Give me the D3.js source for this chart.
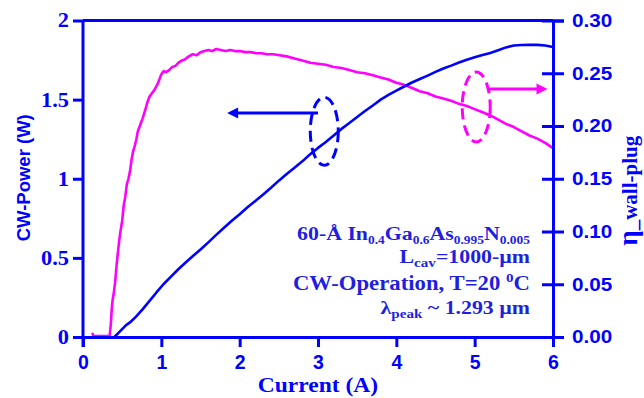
<!DOCTYPE html>
<html>
<head>
<meta charset="utf-8">
<script src="https://cdn.jsdelivr.net/npm/d3@7/dist/d3.min.js"></script>
<style>
  html, body { margin: 0; padding: 0; background: #fff; }
  svg { display: block; }
</style>
</head>
<body>
<svg id="chart" width="644" height="398"></svg>
<script>
// L-I characteristic: CW output power (left axis) and wall-plug efficiency (right axis)
const powerCurrent = [0.40,0.45,0.50,0.55,0.60,0.68,0.76,0.85,0.94,1.03,1.12,1.21,1.30,1.40,1.50,1.60,1.70,1.80,1.90,2.00,
  2.10,2.20,2.30,2.40,2.50,2.60,2.70,2.80,2.90,3.00,3.10,3.20,3.30,3.40,3.50,3.60,3.70,3.80,3.90,4.00,
  4.10,4.20,4.30,4.40,4.50,4.60,4.70,4.80,4.90,5.00,5.10,5.20,5.30,5.40,5.50,5.60,5.70,5.80,5.90,6.00];
const powerValues = [0.000,0.025,0.050,0.075,0.092,0.130,0.175,0.228,0.283,0.335,0.380,0.425,0.466,0.510,0.553,0.598,0.645,0.690,0.735,0.776,
  0.820,0.860,0.900,0.943,0.988,1.030,1.070,1.110,1.155,1.195,1.232,1.273,1.315,1.352,1.390,1.428,1.463,1.500,1.530,1.557,
  1.583,1.608,1.630,1.652,1.675,1.697,1.715,1.735,1.752,1.768,1.782,1.795,1.812,1.830,1.842,1.845,1.847,1.846,1.842,1.832];

const effCurrent = [0.12,0.13,0.15,0.34,0.355,0.37,0.38,0.39,0.41,0.43,0.45,0.46,0.48,0.50,0.52,0.54,0.56,0.58,0.60,0.62,
  0.64,0.66,0.68,0.70,0.73,0.76,0.79,0.82,0.85,0.88,0.91,0.94,0.97,1.00,1.03,1.06,1.10,1.14,1.18,1.22,
  1.26,1.30,1.35,1.40,1.45,1.50,1.55,1.60,1.65,1.70,1.76,1.82,1.88,1.94,2.00,2.07,2.14,2.21,2.28,2.35,
  2.43,2.51,2.60,2.70,2.80,2.90,3.00,3.10,3.20,3.30,3.40,3.50,3.60,3.70,3.80,3.90,4.00,4.10,4.20,4.30,
  4.40,4.50,4.60,4.70,4.80,4.90,5.00,5.10,5.20,5.30,5.40,5.50,5.60,5.70,5.80,5.90,6.00];
const effValues = [0.004,0.001,0.001,0.001,0.012,0.030,0.036,0.040,0.052,0.069,0.083,0.090,0.101,0.110,0.125,0.133,0.145,0.150,0.157,0.168,
  0.176,0.181,0.187,0.195,0.201,0.207,0.214,0.222,0.228,0.231,0.234,0.238,0.243,0.249,0.252,0.251,0.253,0.256,0.257,0.260,
  0.262,0.263,0.266,0.268,0.267,0.270,0.271,0.272,0.271,0.273,0.272,0.271,0.272,0.271,0.271,0.270,0.270,0.269,0.269,0.268,
  0.268,0.267,0.266,0.264,0.262,0.260,0.259,0.258,0.256,0.255,0.253,0.251,0.250,0.248,0.246,0.244,0.241,0.239,0.236,0.233,
  0.231,0.228,0.226,0.224,0.221,0.219,0.216,0.213,0.210,0.206,0.202,0.199,0.195,0.191,0.188,0.184,0.179];

const currentTicks = [0,1,2,3,4,5,6];
const currentTickLabels = ["0","1","2","3","4","5","6"];
const powerTicks = [0,0.5,1,1.5,2];
const powerTickLabels = ["0","0.5","1","1.5","2"];
const effTicks = [0,0.05,0.10,0.15,0.20,0.25,0.30];
const effTickLabels = ["0.00","0.05","0.10","0.15","0.20","0.25","0.30"];

const BLUE = "#0000ff", MAGENTA = "#ff00ff", TEXT = "#1f1fe0";
const SERIF = "'Liberation Serif','Times New Roman',serif";
const SANS = "'Liberation Sans',Arial,sans-serif";
const WIDEN = 1.12; // glyphs in this figure are drawn slightly wide

const W = 644, H = 398;
const margin = {left: 83, right: 91, top: 20.5, bottom: 61};
const x = d3.scaleLinear().domain([0, 6]).range([margin.left, W - margin.right]);
const yL = d3.scaleLinear().domain([0, 2]).range([H - margin.bottom, margin.top]);
const yR = d3.scaleLinear().domain([0, 0.30]).range([H - margin.bottom, margin.top]);

const svg = d3.select("#chart");

// widen a text element horizontally about its own anchor point
function widen(sel) {
  sel.each(function() {
    const t = d3.select(this);
    const tx = +t.attr("x") || 0;
    t.attr("x", tx / WIDEN).attr("transform", `scale(${WIDEN},1)`);
  });
}

// curves
const powerLine = d3.line().x((d, i) => x(powerCurrent[i])).y(d => yL(d));
const effLine = d3.line().x((d, i) => x(effCurrent[i])).y(d => yR(d));

svg.append("path").datum(effValues).attr("d", effLine)
  .attr("fill", "none").attr("stroke", MAGENTA).attr("stroke-width", 2.6).attr("stroke-linejoin", "round");
svg.append("path").datum(powerValues).attr("d", powerLine)
  .attr("fill", "none").attr("stroke", BLUE).attr("stroke-width", 2.6).attr("stroke-linejoin", "round");

// frame top
svg.append("line").attr("x1", x(0)).attr("x2", x(6)).attr("y1", yL(2)).attr("y2", yL(2))
  .attr("stroke", BLUE).attr("stroke-width", 3);

// left axis
const gL = svg.append("g").attr("transform", `translate(${x(0)},0)`)
  .call(d3.axisLeft(yL).tickValues(powerTicks).tickFormat((d, i) => powerTickLabels[i]).tickSize(10).tickPadding(4));
gL.select(".domain").attr("d", `M0,${yL(2)}V${yL(0) + 10}`);

// right axis
const gR = svg.append("g").attr("transform", `translate(${x(6)},0)`)
  .call(d3.axisRight(yR).tickValues(effTicks).tickFormat((d, i) => effTickLabels[i]).tickSize(11).tickPadding(8));
gR.selectAll(".tick line").attr("x1", -11);

// bottom axis
const gB = svg.append("g").attr("transform", `translate(0,${yL(0)})`)
  .call(d3.axisBottom(x).tickValues(currentTicks).tickFormat((d, i) => currentTickLabels[i]).tickSize(10).tickPadding(8));

[gL, gR, gB].forEach(g => {
  g.select(".domain").attr("stroke", BLUE).attr("stroke-width", 3);
  g.selectAll(".tick line").attr("stroke", BLUE).attr("stroke-width", 3);
  g.selectAll(".tick text").attr("fill", BLUE).attr("font-weight", "bold");
});
gL.selectAll(".tick text").attr("font-family", SERIF).attr("font-size", 20).call(widen);
gR.selectAll(".tick text").attr("font-family", SANS).attr("font-size", 18.5).call(widen);
gB.selectAll(".tick text").attr("font-family", SANS).attr("font-size", 19.5);

// axis titles
svg.append("text")
  .attr("transform", `translate(30,${(yL(2) + yL(0)) / 2 - 1}) rotate(-90)`)
  .attr("text-anchor", "middle").attr("font-family", SANS).attr("font-weight", "bold")
  .attr("font-size", 18.5).attr("fill", BLUE).text("CW-Power (W)");

const rTitle = svg.append("text")
  .attr("transform", `translate(637,${(yR(0.30) + yR(0)) / 2 + 12}) rotate(-90)`)
  .attr("text-anchor", "middle").attr("font-family", SERIF).attr("font-weight", "bold")
  .attr("font-size", 21).attr("fill", BLUE);
rTitle.append("tspan").attr("font-size", 27).text("η");
rTitle.append("tspan").text("_wall-plug");

svg.append("text").attr("x", (x(0) + x(6)) / 2 / WIDEN).attr("y", 392)
  .attr("transform", `scale(${WIDEN},1)`)
  .attr("text-anchor", "middle").attr("font-family", SERIF).attr("font-weight", "bold")
  .attr("font-size", 21).attr("fill", BLUE).text("Current (A)");

// device / operating-condition notes, right aligned
const notes = svg.append("g").attr("font-family", SERIF).attr("font-weight", "bold")
  .attr("font-size", 19.5).attr("fill", TEXT).attr("text-anchor", "end");

function noteLine(y, parts, subSize) {
  const t = notes.append("text").attr("x", 530 / WIDEN).attr("y", y).attr("transform", `scale(${WIDEN},1)`);
  let shift = 0;
  parts.forEach(([s, kind]) => {
    const target = kind === "sub" ? 4 : kind === "sup" ? -8 : 0;
    const sp = t.append("tspan").attr("dy", target - shift).text(s);
    if (kind) sp.attr("font-size", subSize);
    shift = target;
  });
}
noteLine(240, [["60-Å In"], ["0.4", "sub"], ["Ga"], ["0.6", "sub"], ["As"], ["0.995", "sub"], ["N"], ["0.005", "sub"]], 12);
noteLine(263, [["L"], ["cav", "sub"], ["=1000-µm"]], 13.5);
notes.attr("font-size", 19.5);
noteLine(290, [["CW-Operation, T=20 "], ["0", "sup"], ["C"]], 13.5);
noteLine(314, [["λ"], ["peak", "sub"], [" ~ 1.293 µm"]], 13.5);
notes.selectAll("text").filter((d, i) => i === 2).attr("font-size", 20.3);

// series markers: dashed ellipses with arrows pointing to each curve's axis
function arrowHead(g, tipX, tipY, dir, color) {
  const len = 11, half = 5.5;
  g.append("path")
    .attr("d", `M${tipX},${tipY}L${tipX - dir * len},${tipY - half}L${tipX - dir * len},${tipY + half}Z`)
    .attr("fill", color);
}
const ann = svg.append("g");
// power curve marker
ann.append("ellipse").attr("cx", x(3.08)).attr("cy", yL(1.30)).attr("rx", 14).attr("ry", 34)
  .attr("fill", "none").attr("stroke", BLUE).attr("stroke-width", 3).attr("stroke-dasharray", "11,6");
ann.append("line").attr("x1", x(3.0)).attr("x2", x(1.9)).attr("y1", yL(1.415)).attr("y2", yL(1.415))
  .attr("stroke", BLUE).attr("stroke-width", 3);
arrowHead(ann, x(1.84), yL(1.415), -1, BLUE);
// efficiency curve marker
ann.append("ellipse").attr("cx", x(5.02)).attr("cy", yR(0.218)).attr("rx", 14).attr("ry", 35)
  .attr("fill", "none").attr("stroke", MAGENTA).attr("stroke-width", 3).attr("stroke-dasharray", "11,6");
ann.append("line").attr("x1", x(5.18)).attr("x2", x(5.85)).attr("y1", yR(0.235)).attr("y2", yR(0.235))
  .attr("stroke", MAGENTA).attr("stroke-width", 3);
arrowHead(ann, x(5.93), yR(0.235), 1, MAGENTA);
</script>
</body>
</html>
